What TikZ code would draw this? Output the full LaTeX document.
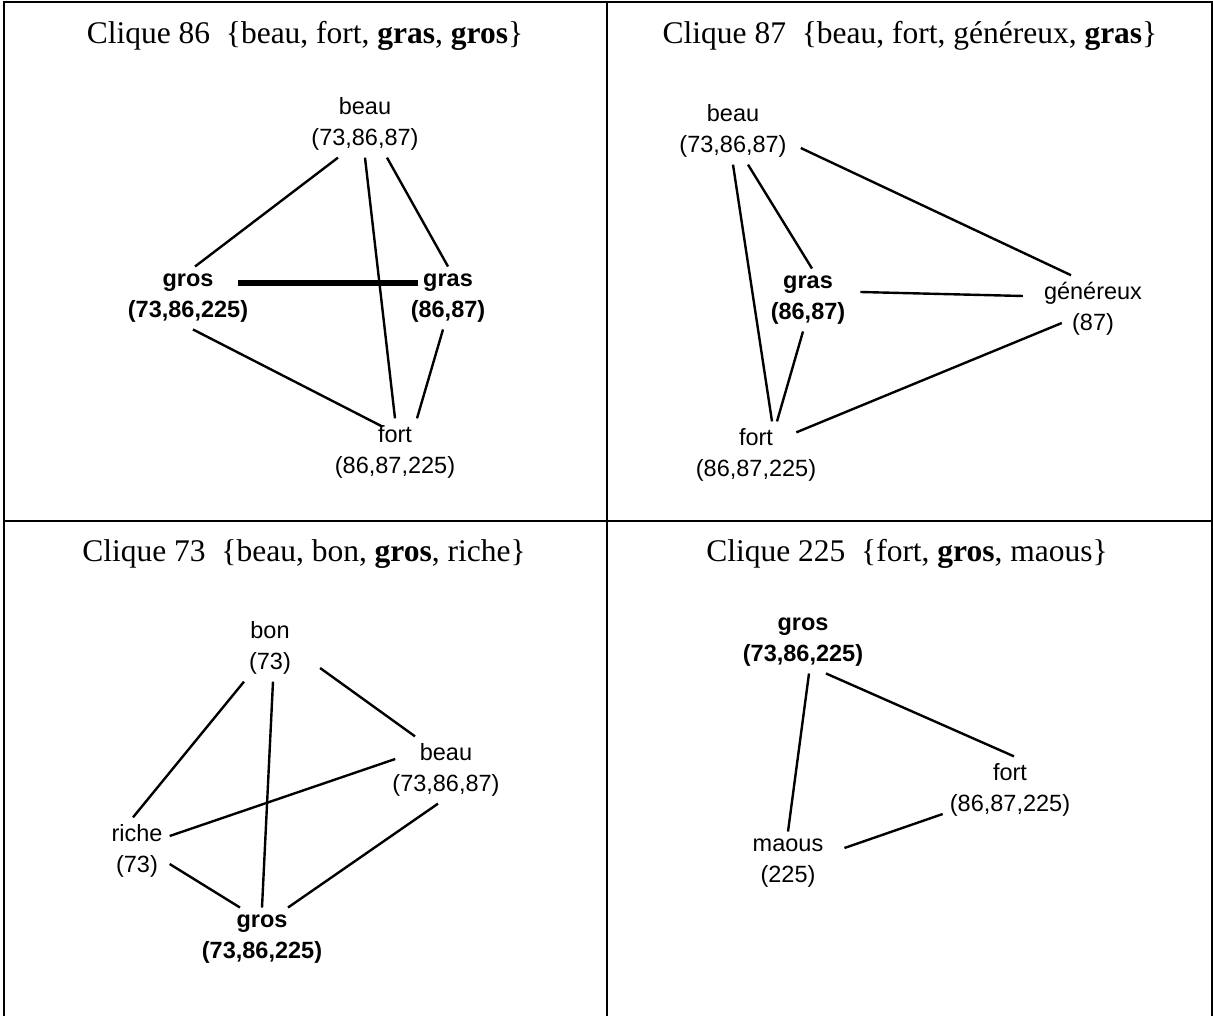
\documentclass[tikz,border=0pt]{standalone}
\usepackage{fontspec}
\setmainfont{Liberation Serif}
\newfontfamily\wordfont{Liberation Sans}
\usepackage{tikz}

\begin{document}
\begin{tikzpicture}[x=1pt,y=-1pt,
    word/.style={font=\wordfont\fontsize{23.5}{31}\selectfont,align=center,inner sep=7pt},
    hot/.style={word,font=\wordfont\bfseries\fontsize{23.5}{31}\selectfont},
    link/.style={line width=2.4pt},
    heavy/.style={line width=5.5pt},
    caption/.style={font=\fontsize{31.5}{38}\selectfont,anchor=base,inner sep=0pt}]
  \useasboundingbox (0,0) rectangle (1213,1016);
  % table frame
  \draw[line width=2pt] (3.5,1016) -- (3.5,2) -- (1211.5,2) -- (1211.5,1016);
  \draw[line width=2pt] (607,2) -- (607,1016);
  \draw[line width=2pt] (3.5,521) -- (1211.5,521);
  % clique 86
  \begin{scope}
    \node[caption] (t86) at (305,44) {Clique 86\ \ \{beau, fort, \textbf{gras}, \textbf{gros}\}};
    \node[word] (a-beau) at (365,124) {beau\\(73,86,87)};
    \node[hot]  (a-gros) at (188,298) {gros\\(73,86,225)};
    \node[hot]  (a-gras) at (448,298) {gras\\(86,87)};
    \node[word] (a-fort) at (395,452) {fort\\(86,87,225)};
    \draw[link] ([xshift=-27pt]a-beau.south) -- ([xshift=7pt]a-gros.north);
    \draw[link] (a-beau.south) -- (a-fort.north);
    \draw[link] ([xshift=22pt]a-beau.south) -- (a-gras.north);
    \draw[link] ([xshift=5pt]a-gros.south) -- ([xshift=-13pt,yshift=-8pt]a-fort.north);
    \draw[link] ([xshift=-5pt]a-gras.south) -- ([xshift=22pt]a-fort.north);
    \draw[heavy,shorten <=-17pt,shorten >=-14pt] ([yshift=15pt]a-gros.east) -- ([yshift=15pt]a-gras.west);
  \end{scope}
  % clique 87
  \begin{scope}
    \node[caption] (t87) at (910,44) {Clique 87\ \ \{beau, fort, généreux, \textbf{gras}\}};
    \node[word] (b-beau) at (733,131) {beau\\(73,86,87)};
    \node[hot]  (b-gras) at (808,300) {gras\\(86,87)};
    \node[word] (b-gene) at (1093,309) {généreux\\(87)};
    \node[word] (b-fort) at (756,455) {fort\\(86,87,225)};
    \draw[link] ([xshift=7pt,yshift=-17pt]b-beau.east) -- ([xshift=-22pt]b-gene.north);
    \draw[link] ([xshift=15pt]b-beau.south) -- ([xshift=4pt]b-gras.north);
    \draw[link] (b-beau.south) -- ([xshift=16pt]b-fort.north);
    \draw[link] ([xshift=8pt,yshift=8pt]b-gras.east) -- ([xshift=-14pt,yshift=13pt]b-gene.west);
    \draw[link] ([xshift=-5pt]b-gras.south) -- ([xshift=21pt]b-fort.north);
    \draw[link] ([xshift=-27pt,yshift=-11pt]b-fort.north east) -- ([xshift=25pt,yshift=-14pt]b-gene.west);
  \end{scope}
  % clique 73
  \begin{scope}
    \node[caption] (t73) at (304,561) {Clique 73\ \ \{beau, bon, \textbf{gros}, riche\}};
    \node[word] (c-bon)   at (270,648) {bon\\(73)};
    \node[word] (c-beau)  at (446,770) {beau\\(73,86,87)};
    \node[word] (c-riche) at (137,851) {riche\\(73)};
    \node[hot]  (c-gros)  at (262,939) {gros\\(73,86,225)};
    \draw[link] ([xshift=-26pt]c-bon.south) -- ([xshift=-4pt]c-riche.north);
    \draw[link] ([xshift=3pt]c-bon.south) -- (c-gros.north);
    \draw[link] ([xshift=22pt,yshift=-20pt]c-bon.east) -- ([xshift=-31pt]c-beau.north);
    \draw[link] ([yshift=15pt]c-riche.east) -- ([xshift=10pt,yshift=11pt]c-beau.west);
    \draw[link] ([yshift=-13pt]c-riche.east) -- ([xshift=-22pt]c-gros.north);
    \draw[link] ([xshift=-8pt]c-beau.south) -- ([xshift=26pt]c-gros.north);
  \end{scope}
  % clique 225
  \begin{scope}
    \node[caption] (t225) at (907,561) {Clique 225\ \ \{fort, \textbf{gros}, maous\}};
    \node[hot]  (d-gros)  at (803,642) {gros\\(73,86,225)};
    \node[word] (d-fort)  at (1010,790) {fort\\(86,87,225)};
    \node[word] (d-maous) at (788,863) {maous\\(225)};
    \draw[link] ([xshift=23pt]d-gros.south) -- ([xshift=4pt]d-fort.north);
    \draw[link] ([xshift=6pt]d-gros.south) -- (d-maous.north);
    \draw[link] ([xshift=14pt,yshift=15pt]d-maous.east) -- ([yshift=-24pt]d-fort.west);
  \end{scope}
\end{tikzpicture}
\end{document}
